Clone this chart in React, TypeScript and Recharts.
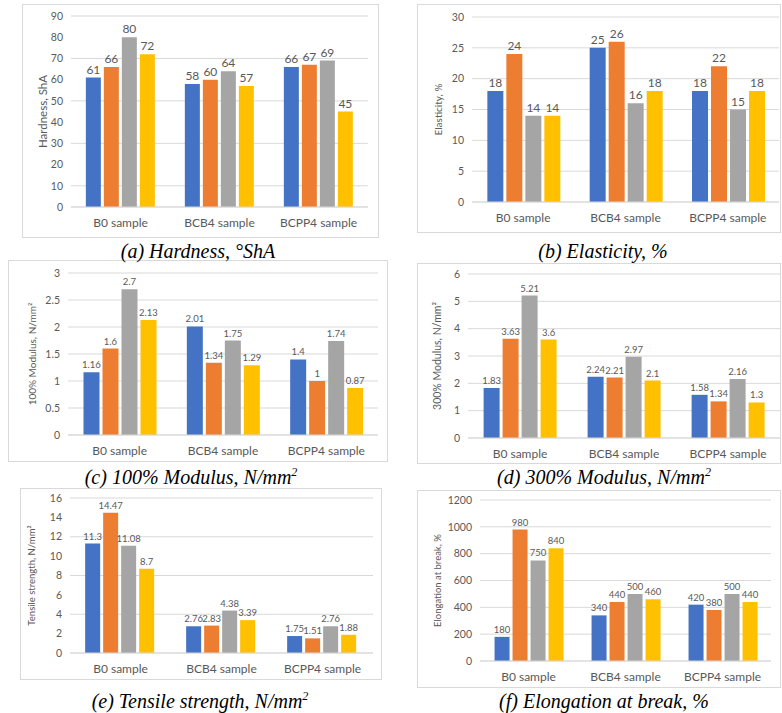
import { Bar, BarChart, CartesianGrid, LabelList, XAxis, YAxis } from "recharts";

const categories = ["B0 sample", "BCB4 sample", "BCPP4 sample"];
const colors = ["#4472C4", "#ED7D31", "#A5A5A5", "#FFC000"];

// four series per property, values in category order
const hardness = [[61, 58, 66], [66, 60, 67], [80, 64, 69], [72, 57, 45]];
const elasticity = [[18, 25, 18], [24, 26, 22], [14, 16, 15], [14, 18, 18]];
const modulus100 = [[1.16, 2.01, 1.4], [1.6, 1.34, 1], [2.7, 1.75, 1.74], [2.13, 1.29, 0.87]];
const modulus300 = [[1.83, 2.24, 1.58], [3.63, 2.21, 1.34], [5.21, 2.97, 2.16], [3.6, 2.1, 1.3]];
const tensile = [[11.3, 2.76, 1.75], [14.47, 2.83, 1.51], [11.08, 4.38, 2.76], [8.7, 3.39, 1.88]];
const elongation = [[180, 340, 420], [980, 440, 380], [750, 500, 500], [840, 460, 440]];

const hardnessTicks = [0, 10, 20, 30, 40, 50, 60, 70, 80, 90];
const elasticityTicks = [0, 5, 10, 15, 20, 25, 30];
const modulus100Ticks = [0, 0.5, 1, 1.5, 2, 2.5, 3];
const modulus300Ticks = [0, 1, 2, 3, 4, 5, 6];
const tensileTicks = [0, 2, 4, 6, 8, 10, 12, 14, 16];
const elongationTicks = [0, 200, 400, 600, 800, 1000, 1200];

const FONT = "Lato, 'Open Sans', sans-serif";
const GREY = "#595959";

type Box = { x: number; y: number; w: number; h: number };
type Plot = { l: number; r: number; t: number; b: number };

function Panel(props: {
  box: Box;
  plot: Plot;
  series: number[][];
  ticks: number[];
  yLabel: string;
  yLabelX: number;
  yLabelSize: number;
  valueSize: number;
}) {
  const { box, plot, series, ticks, yLabel, yLabelX, yLabelSize, valueSize } = props;
  const data = categories.map((name, i) => {
    const row: Record<string, string | number> = { name };
    series.forEach((s, k) => (row["s" + k] = s[i]));
    return row;
  });

  return (
    <div
      style={{
        position: "absolute",
        left: box.x,
        top: box.y,
        width: box.w,
        height: box.h,
        outline: "1px solid #d9d9d9",
        outlineOffset: -1,
        background: "#fff",
      }}
    >
      <BarChart
        width={box.w}
        height={box.h}
        data={data}
        margin={{ top: plot.t - box.y, right: box.x + box.w - plot.r, left: 0, bottom: 0 }}
        barCategoryGap="15%"
        barGap={3}
        style={{ fontFamily: FONT }}
      >
        <CartesianGrid vertical={false} stroke="#d9d9d9" />
        <XAxis
          dataKey="name"
          height={box.y + box.h - plot.b}
          tickLine={false}
          axisLine={{ stroke: "#d9d9d9" }}
          tickMargin={5}
          tick={{ fill: GREY, fontSize: 12 }}
        />
        <YAxis
          width={plot.l - box.x}
          domain={[ticks[0], ticks[ticks.length - 1]]}
          ticks={ticks}
          axisLine={false}
          tickLine={false}
          tick={{ fill: GREY, fontSize: 10.5 }}
          label={{
            value: yLabel,
            angle: -90,
            position: "insideLeft",
            offset: yLabelX - box.x,
            style: { textAnchor: "middle", fill: GREY, fontSize: yLabelSize },
          }}
        />
        {series.map((_, k) => (
          <Bar key={k} dataKey={"s" + k} fill={colors[k]} isAnimationActive={false}>
            <LabelList dataKey={"s" + k} position="top" offset={4} fill={GREY} fontSize={valueSize} />
          </Bar>
        ))}
      </BarChart>
    </div>
  );
}

function Caption({ x, y, children }: { x: number; y: number; children: React.ReactNode }) {
  return (
    <div
      style={{
        position: "absolute",
        left: x,
        top: y,
        transform: "translate(-50%, -50%)",
        fontFamily: "'Liberation Serif', 'Times New Roman', serif",
        fontStyle: "italic",
        fontSize: 20,
        lineHeight: "20px",
        whiteSpace: "nowrap",
        color: "#000",
      }}
    >
      {children}
    </div>
  );
}

const sup = { fontSize: 12, lineHeight: "0", verticalAlign: "super" } as const;

export default function App() {
  return (
    <div style={{ position: "absolute", left: 0, top: 0, width: 782, height: 713, background: "#fff", overflow: "hidden" }}>
      <Panel
        box={{ x: 22, y: 4, w: 357, h: 234 }}
        plot={{ l: 71, r: 368, t: 16, b: 207 }}
        series={hardness}
        ticks={hardnessTicks}
        yLabel="Hardness, ShA"
        yLabelX={43}
        yLabelSize={11.5}
        valueSize={12}
      />
      <Panel
        box={{ x: 417, y: 4, w: 364, h: 229 }}
        plot={{ l: 472, r: 779, t: 17, b: 202 }}
        series={elasticity}
        ticks={elasticityTicks}
        yLabel="Elasticity, %"
        yLabelX={438}
        yLabelSize={10}
        valueSize={12}
      />
      <Panel
        box={{ x: 8, y: 260, w: 380, h: 202 }}
        plot={{ l: 68, r: 378, t: 273, b: 435 }}
        series={modulus100}
        ticks={modulus100Ticks}
        yLabel="100% Modulus, N/mm²"
        yLabelX={32}
        yLabelSize={10}
        valueSize={9.5}
      />
      <Panel
        box={{ x: 417, y: 263, w: 364, h: 201 }}
        plot={{ l: 468, r: 780, t: 274, b: 438 }}
        series={modulus300}
        ticks={modulus300Ticks}
        yLabel="300% Modulus, N/mm²"
        yLabelX={437}
        yLabelSize={10.5}
        valueSize={9.5}
      />
      <Panel
        box={{ x: 20, y: 488, w: 362, h: 192 }}
        plot={{ l: 70, r: 373, t: 498, b: 653 }}
        series={tensile}
        ticks={tensileTicks}
        yLabel="Tensile strength, N/mm²"
        yLabelX={32}
        yLabelSize={9.5}
        valueSize={9.5}
      />
      <Panel
        box={{ x: 417, y: 490, w: 364, h: 198 }}
        plot={{ l: 480, r: 771, t: 500, b: 661 }}
        series={elongation}
        ticks={elongationTicks}
        yLabel="Elongation at break, %"
        yLabelX={438}
        yLabelSize={9.5}
        valueSize={9.5}
      />

      <Caption x={198} y={251}>(a) Hardness, °ShA</Caption>
      <Caption x={603} y={251}>(b) Elasticity, %</Caption>
      <Caption x={191} y={477}>
        (c) 100% Modulus, N/mm<span style={sup}>2</span>
      </Caption>
      <Caption x={604} y={477}>
        (d) 300% Modulus, N/mm<span style={sup}>2</span>
      </Caption>
      <Caption x={200} y={701}>
        (e) Tensile strength, N/mm<span style={sup}>2</span>
      </Caption>
      <Caption x={604} y={701}>(f) Elongation at break, %</Caption>
    </div>
  );
}
